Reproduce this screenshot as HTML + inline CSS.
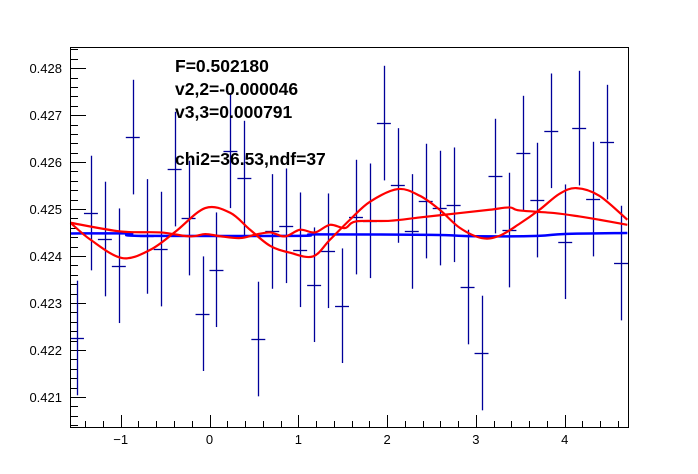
<!DOCTYPE html>
<html><head><meta charset="utf-8"><style>
html,body{margin:0;padding:0;background:#fff;}
svg{display:block;font-family:"Liberation Sans",sans-serif;}
</style></head><body>
<svg id="chart" width="698" height="474" viewBox="0 0 698 474" xmlns="http://www.w3.org/2000/svg">
<rect x="0" y="0" width="698" height="474" fill="#fff"/>
<g id="ticks"></g>
<g id="points"></g>
<g id="curves"></g>
<rect x="70.5" y="47.5" width="558" height="380" fill="none" stroke="#000" stroke-width="1"/>
<g font-weight="bold" font-size="17.5" fill="#000">
<text x="175" y="72">F=0.502180</text>
<text x="175" y="95">v2,2=-0.000046</text>
<text x="175" y="118">v3,3=0.000791</text>
<text x="175" y="165">chi2=36.53,ndf=37</text>
</g>
</svg>
<script>
const pointValues=[0.422255,0.424915,0.424362,0.423793,0.426532,0.424417,0.424148,0.425851,0.424808,0.422772,0.423708,0.42624,0.425659,0.422233,0.424523,0.424644,0.424133,0.423389,0.424112,0.422942,0.424829,0.42475,0.42683,0.425502,0.424523,0.42517,0.425021,0.425091,0.42334,0.421935,0.425702,0.424553,0.426191,0.425191,0.426666,0.424304,0.426723,0.425212,0.426425,0.42385];
const pointErrors=[0.00122,0.00122,0.00122,0.00122,0.00122,0.00122,0.00122,0.00122,0.00122,0.00122,0.00122,0.00122,0.00122,0.00122,0.00122,0.00122,0.00122,0.00122,0.00122,0.00122,0.00122,0.00122,0.00122,0.00122,0.00122,0.00122,0.00122,0.00122,0.00122,0.00122,0.00122,0.00122,0.00122,0.00122,0.00122,0.00122,0.00122,0.00122,0.00122,0.00122];
const curveAX=[-1.565,-1.339,-0.984,-0.666,-0.385,-0.048,0.233,0.457,0.682,0.907,1.165,1.356,1.581,1.806,2.121,2.368,2.592,2.817,3.064,3.267,3.491,3.716,3.941,4.132,4.390,4.705];
const curveAY=[0.424708,0.424346,0.423957,0.424133,0.424516,0.425021,0.424921,0.424559,0.424218,0.42407,0.423991,0.424346,0.424772,0.425155,0.425425,0.425283,0.424985,0.424602,0.424382,0.424431,0.424687,0.424985,0.425325,0.425446,0.425283,0.424772];
const curveBX=[-1.565,-1.002,-0.553,-0.216,-0.048,0.120,0.345,0.514,0.682,0.851,1.019,1.188,1.356,1.525,1.648,2.030,2.368,2.817,3.154,3.379,3.491,3.884,4.165,4.390,4.705];
const curveBY=[0.424708,0.424523,0.424502,0.424417,0.424468,0.424421,0.424382,0.424453,0.424502,0.424417,0.424559,0.424502,0.424665,0.424595,0.424736,0.42475,0.424821,0.424915,0.424985,0.425034,0.42497,0.424915,0.424842,0.424772,0.424665];
const baseX=[-1.565,-0.9,-0.8,1.0,1.2,2.5,3.0,3.7,4.0,4.705];
const baseY=[0.42448,0.42448,0.42443,0.42443,0.42446,0.42445,0.42442,0.42443,0.42447,0.42449];
const yTickLabels=["0.421","0.422","0.423","0.424","0.425","0.426","0.427","0.428"];
const xTickLabels=["\u22121","0","1","2","3","4"];

const X0=-Math.PI/2,X1=3*Math.PI/2,Y0=0.42036,Y1=0.42845;
const L=70,R=628,T=47,B=427;
function sx(v){return L+(v-X0)/(X1-X0)*(R-L);}
function sy(v){return B-(v-Y0)/(Y1-Y0)*(B-T);}
const NS="http://www.w3.org/2000/svg";
function mk(tag,attrs,parent){const e=document.createElementNS(NS,tag);for(const k in attrs)e.setAttribute(k,attrs[k]);parent.appendChild(e);return e;}
const gt=document.getElementById('ticks'),gc=document.getElementById('curves'),gp=document.getElementById('points');

for(let i=0;i<=45;i++){const v=0.4204+i*0.0002;if(v>Y1)break;const y=Math.round(sy(v))+0.5;const major=Math.abs((v*1000)-Math.round(v*1000))<1e-6;
const t=mk('line',{x1:L,x2:L+(major?16:8),y1:y,y2:y,stroke:'#000','stroke-width':1},gt);

}
yTickLabels.forEach(s=>{const t=mk('text',{x:62,y:sy(parseFloat(s))+5,'text-anchor':'end','font-size':13,fill:'#000'},gt);t.textContent=s;

});
for(let i=-7;i<=23;i++){const v=i*0.2;if(v<X0||v>X1)continue;const x=Math.round(sx(v))+0.5;const major=i%5===0;
const t=mk('line',{x1:x,x2:x,y1:B,y2:B-(major?12:6),stroke:'#000','stroke-width':1},gt);

}
xTickLabels.forEach(s=>{const v=parseFloat(s.replace('\u2212','-'));const t=mk('text',{x:sx(v),y:444,'text-anchor':'middle','font-size':13,fill:'#000'},gt);t.textContent=s;

});

function smoothPath(xs,ys){const P=xs.map((x,i)=>[sx(x),sy(ys[i])]);let d='M'+P[0][0]+','+P[0][1];
for(let i=0;i<P.length-1;i++){const p0=P[Math.max(0,i-1)],p1=P[i],p2=P[i+1],p3=P[Math.min(P.length-1,i+2)];
const c1=[p1[0]+(p2[0]-p0[0])/6,p1[1]+(p2[1]-p0[1])/6],c2=[p2[0]-(p3[0]-p1[0])/6,p2[1]-(p3[1]-p1[1])/6];
d+=' C'+c1[0]+','+c1[1]+' '+c2[0]+','+c2[1]+' '+p2[0]+','+p2[1];}return d;}
function curve(xs,ys,color,w,name){const p=mk('path',{d:smoothPath(xs,ys),fill:'none',stroke:color,'stroke-width':w,'stroke-linejoin':'round'},gc);

}
curve(baseX,baseY,'#0000ff',2.5,'baseline-fit');
curve(curveAX,curveAY,'#ff0000',2.2,'harmonic-fit-curve');
curve(curveBX,curveBY,'#ff0000',2.2,'smooth-fit-curve');

const n=pointValues.length,bw=(X1-X0)/n;
pointValues.forEach((v,i)=>{const c=X0+bw*(i+0.5);const x=Math.round(sx(c))+0.5;const yc=Math.round(sy(v))+0.5;
const g=mk('g',{stroke:'#000099','stroke-width':1.3},gp);


mk('line',{x1:x,x2:x,y1:sy(v+pointErrors[i]),y2:sy(v-pointErrors[i])},g);
mk('line',{x1:sx(c-bw/2),x2:sx(c+bw/2),y1:yc,y2:yc},g);});
</script>
</body></html>
